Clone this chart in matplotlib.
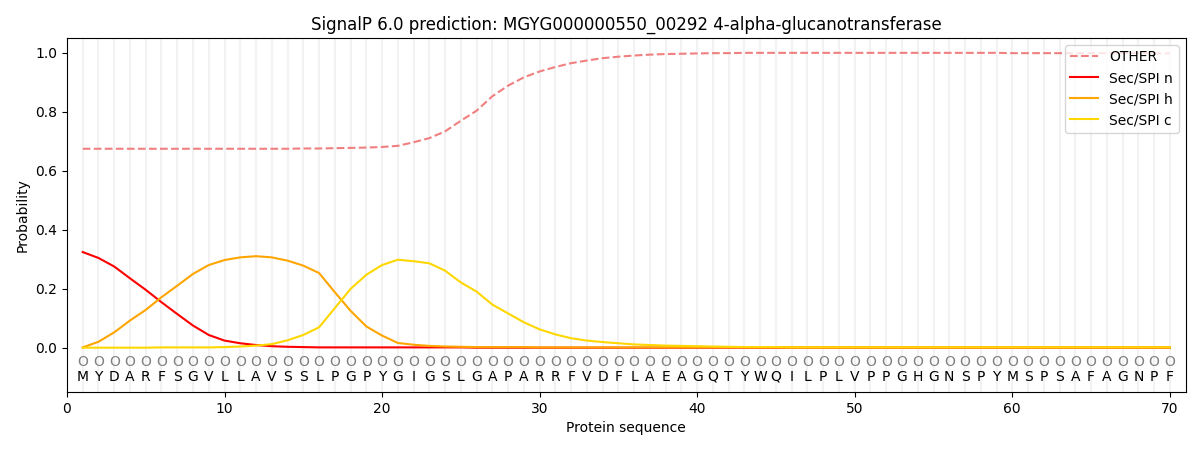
import matplotlib
matplotlib.use("Agg")
import matplotlib.pyplot as plt
import numpy as np

title = "SignalP 6.0 prediction: MGYG000000550_00292 4-alpha-glucanotransferase"
sequence = list("MYDARFSGVLLAVSSLPGPYGIGSLGAPARRFVDFLAEAGQTYWQILPLVPPGHGNSPYMSPSAFAGNPF")
positions = list(range(1, len(sequence) + 1))

other = [0.674, 0.674, 0.674, 0.674, 0.674, 0.674, 0.674, 0.674, 0.674, 0.674,
         0.674, 0.674, 0.674, 0.674, 0.675, 0.675, 0.676, 0.677, 0.678, 0.680,
         0.684, 0.696, 0.710, 0.733, 0.769, 0.803, 0.852, 0.888, 0.916, 0.936,
         0.951, 0.964, 0.973, 0.981, 0.986, 0.990, 0.993, 0.995, 0.996, 0.997,
         0.998, 0.998, 0.999, 0.999, 0.999, 0.999, 0.999, 0.999, 0.999, 0.999,
         0.999, 0.999, 0.999, 0.999, 0.999, 0.999, 0.999, 0.999, 0.999, 0.998,
         0.998, 0.998, 0.998, 0.998, 0.998, 0.998, 0.998, 0.998, 0.997, 0.997]

sec_n = [0.324, 0.304, 0.275, 0.235, 0.196, 0.154, 0.114, 0.075, 0.043, 0.024,
         0.015, 0.009, 0.005, 0.003, 0.002, 0.001, 0.001, 0.001, 0.001, 0.001,
         0.001, 0.001, 0.001, 0.001, 0.001, 0.000, 0.000, 0.000, 0.000, 0.000,
         0.000, 0.000, 0.000, 0.000, 0.000, 0.000, 0.000, 0.000, 0.000, 0.000,
         0.000, 0.000, 0.000, 0.000, 0.000, 0.000, 0.000, 0.000, 0.000, 0.000,
         0.000, 0.000, 0.000, 0.000, 0.000, 0.000, 0.000, 0.000, 0.000, 0.000,
         0.000, 0.000, 0.000, 0.000, 0.000, 0.000, 0.000, 0.000, 0.000, 0.000]

sec_h = [0.001, 0.020, 0.052, 0.092, 0.128, 0.171, 0.210, 0.250, 0.280, 0.297,
         0.306, 0.310, 0.306, 0.295, 0.278, 0.253, 0.188, 0.125, 0.072, 0.041,
         0.016, 0.010, 0.006, 0.004, 0.003, 0.002, 0.002, 0.002, 0.002, 0.001,
         0.001, 0.001, 0.001, 0.001, 0.001, 0.001, 0.001, 0.001, 0.001, 0.001,
         0.001, 0.001, 0.001, 0.001, 0.001, 0.001, 0.001, 0.001, 0.001, 0.001,
         0.001, 0.001, 0.001, 0.001, 0.001, 0.001, 0.001, 0.001, 0.001, 0.001,
         0.001, 0.001, 0.001, 0.001, 0.001, 0.001, 0.001, 0.001, 0.001, 0.001]

sec_c = [0.000, 0.000, 0.000, 0.000, 0.000, 0.001, 0.001, 0.001, 0.001, 0.002,
         0.004, 0.007, 0.012, 0.025, 0.043, 0.069, 0.134, 0.199, 0.247, 0.280,
         0.298, 0.293, 0.286, 0.261, 0.221, 0.190, 0.146, 0.116, 0.086, 0.062,
         0.045, 0.032, 0.024, 0.019, 0.015, 0.011, 0.009, 0.007, 0.006, 0.005,
         0.004, 0.003, 0.002, 0.002, 0.002, 0.001, 0.001, 0.001, 0.001, 0.001,
         0.001, 0.001, 0.001, 0.001, 0.001, 0.001, 0.001, 0.001, 0.001, 0.001,
         0.001, 0.001, 0.001, 0.001, 0.001, 0.001, 0.001, 0.001, 0.001, 0.001]

fig, ax = plt.subplots(figsize=(12, 4.5), dpi=100)
fig.subplots_adjust(left=0.0558, right=0.988, bottom=0.129, top=0.916)

for p in positions:
    ax.axvline(p, color="#f2f2f2", linewidth=1.5, zorder=0)

ax.plot(positions, other, linestyle="--", color="#f08080", linewidth=1.5, label="OTHER")
ax.plot(positions, sec_n, color="red", linewidth=1.5, label="Sec/SPI n")
ax.plot(positions, sec_h, color="orange", linewidth=1.5, label="Sec/SPI h")
ax.plot(positions, sec_c, color="gold", linewidth=1.5, label="Sec/SPI c")

for p, aa in zip(positions, sequence):
    ax.text(p, -0.047, "O", ha="center", va="center", fontsize=10, color="gray")
    ax.text(p, -0.098, aa, ha="center", va="center", fontsize=10)

ax.set_xlim(0, 71)
ax.set_ylim(-0.15, 1.05)
ax.set_yticks([0.0, 0.2, 0.4, 0.6, 0.8, 1.0])
ax.set_xticks([0, 10, 20, 30, 40, 50, 60, 70])
ax.set_xlabel("Protein sequence")
ax.set_ylabel("Probability")
ax.set_title(title, fontsize=12)
ax.legend(loc="upper right")

fig.savefig("out.png", dpi=100)
